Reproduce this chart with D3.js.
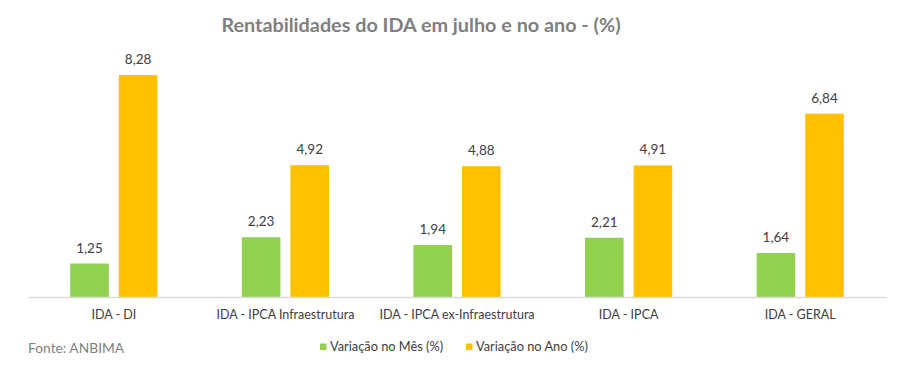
<!DOCTYPE html>
<html>
<head>
<meta charset="utf-8">
<script src="https://cdn.jsdelivr.net/npm/d3@7"></script>
<style>
  html, body { margin: 0; padding: 0; background: #fff; }
  svg { display: block; font-family: Lato, "Open Sans", sans-serif; }
</style>
</head>
<body>
<svg id="chart" width="900" height="369"></svg>
<script>
const categories = ["IDA - DI", "IDA - IPCA Infraestrutura", "IDA - IPCA ex-Infraestrutura", "IDA - IPCA", "IDA - GERAL"];
const seriesNames = ["Variação no Mês (%)", "Variação no Ano (%)"];
const variacaoMes = [1.25, 2.23, 1.94, 2.21, 1.64];
const variacaoAno = [8.28, 4.92, 4.88, 4.91, 6.84];
const seriesColors = ["#92D050", "#FFC000"];
const titleText = "Rentabilidades do IDA em julho e no ano - (%)";
const sourceText = "Fonte: ANBIMA";

const seriesValues = [variacaoMes, variacaoAno];
const svg = d3.select("#chart");

const left = 28, right = 886, baseline = 297;
const x0 = d3.scaleBand().domain(categories).range([left, right]).padding(0);
const x1 = d3.scaleBand().domain(seriesNames).range([0, x0.bandwidth()])
  .paddingInner(0.206).paddingOuter(0.868);
const y = d3.scaleLinear().domain([0, 9]).range([baseline, baseline - 9 * 26.8]);

const fmt = v => d3.format(".2f")(v).replace(".", ",");

// title
svg.append("text")
  .attr("x", 421).attr("y", 32)
  .attr("text-anchor", "middle")
  .attr("font-size", 19.8).attr("font-weight", "bold")
  .attr("fill", "#7F7F7F")
  .text(titleText);

// bars
const groups = svg.append("g").selectAll("g")
  .data(categories)
  .join("g")
  .attr("transform", d => `translate(${x0(d)},0)`);

groups.each(function(cat, ci) {
  const g = d3.select(this);
  seriesNames.forEach((s, si) => {
    const v = seriesValues[si][ci];
    g.append("rect")
      .attr("x", x1(s)).attr("width", x1.bandwidth())
      .attr("y", y(v)).attr("height", y(0) - y(v))
      .attr("fill", seriesColors[si]);
    g.append("text")
      .attr("x", x1(s) + x1.bandwidth() / 2)
      .attr("y", y(v) - 11)
      .attr("text-anchor", "middle")
      .attr("font-size", 13.5)
      .attr("fill", "#404040")
      .text(fmt(v));
  });
});

// axis
const xAxis = d3.axisBottom(x0).tickSize(0).tickPadding(13);
const ax = svg.append("g").attr("transform", `translate(0,${baseline})`).call(xAxis);
ax.select(".domain").attr("stroke", "#D9D9D9").attr("stroke-width", 1.5);
ax.selectAll("text").attr("font-size", 12.5).attr("fill", "#404040")
  .attr("font-family", "Lato, 'Open Sans', sans-serif");

// source
svg.append("text")
  .attr("x", 28).attr("y", 353)
  .attr("font-size", 13.8).attr("fill", "#7F7F7F")
  .text(sourceText);

// legend
const legendX = [320, 466];
const lg = svg.append("g").selectAll("g").data(seriesNames).join("g")
  .attr("transform", (d, i) => `translate(${legendX[i]},343.5)`);
lg.append("rect").attr("width", 6.5).attr("height", 6.5)
  .attr("fill", (d, i) => seriesColors[i]);
lg.append("text").attr("x", 10).attr("y", 7)
  .attr("font-size", 12.8).attr("fill", "#404040")
  .text(d => d);
</script>
</body>
</html>
